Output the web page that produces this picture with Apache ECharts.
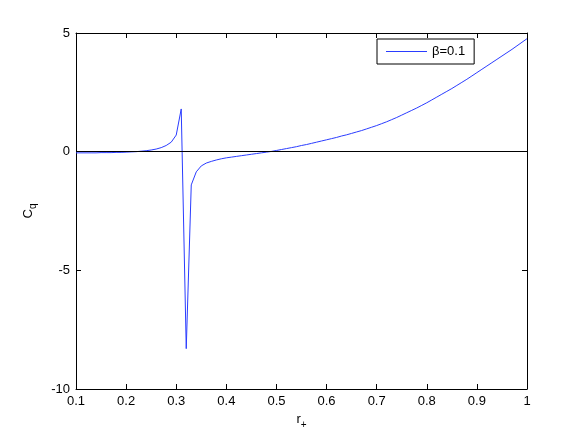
<!DOCTYPE html>
<html>
<head>
<meta charset="utf-8">
<script src="https://cdn.jsdelivr.net/npm/echarts@6/dist/echarts.min.js"></script>
<style>
  html, body { margin: 0; padding: 0; background: #fff; }
  #myChart { width: 582px; height: 438px; }
</style>
</head>
<body>
<div id="myChart"></div>
<script>
// r+ sample points (step 0.01) and heat capacity
const rPlus = [
  0.10, 0.11, 0.12, 0.13, 0.14, 0.15, 0.16, 0.17, 0.18, 0.19,
  0.20, 0.21, 0.22, 0.23, 0.24, 0.25, 0.26, 0.27, 0.28, 0.29,
  0.30, 0.31, 0.32, 0.33, 0.34, 0.35, 0.36, 0.37, 0.38, 0.39,
  0.40, 0.41, 0.42, 0.43, 0.44, 0.45, 0.46, 0.47, 0.48, 0.49,
  0.50, 0.51, 0.52, 0.53, 0.54, 0.55, 0.56, 0.57, 0.58, 0.59,
  0.60, 0.61, 0.62, 0.63, 0.64, 0.65, 0.66, 0.67, 0.68, 0.69,
  0.70, 0.71, 0.72, 0.73, 0.74, 0.75, 0.76, 0.77, 0.78, 0.79,
  0.80, 0.81, 0.82, 0.83, 0.84, 0.85, 0.86, 0.87, 0.88, 0.89,
  0.90, 0.91, 0.92, 0.93, 0.94, 0.95, 0.96, 0.97, 0.98, 0.99,
  1.00
]
const cqBeta01 = [
  -0.05, -0.05, -0.05, -0.05, -0.05, -0.04, -0.04, -0.04, -0.03, -0.03,
  -0.02, -0.01, 0.00, 0.02, 0.04, 0.07, 0.11, 0.17, 0.26, 0.40,
  0.70, 1.80, -8.30, -1.40, -0.85, -0.60, -0.48, -0.41, -0.35, -0.30,
  -0.26, -0.23, -0.20, -0.17, -0.14, -0.11, -0.08, -0.05, -0.02, 0.01,
  0.05, 0.09, 0.13, 0.17, 0.21, 0.26, 0.30, 0.35, 0.40, 0.45,
  0.50, 0.55, 0.60, 0.66, 0.71, 0.77, 0.83, 0.89, 0.96, 1.03,
  1.10, 1.18, 1.26, 1.35, 1.44, 1.54, 1.64, 1.74, 1.84, 1.95,
  2.06, 2.18, 2.30, 2.42, 2.54, 2.66, 2.79, 2.92, 3.05, 3.19,
  3.33, 3.47, 3.61, 3.75, 3.89, 4.03, 4.17, 4.31, 4.46, 4.61,
  4.76
]
const seriesName = 'β=0.1'

const font = 'Liberation Sans, Helvetica, Arial, sans-serif'
const pairs = rPlus.map((r, i) => [r, cqBeta01[i]])

const boxAxis = (extra) => Object.assign({
  type: 'value',
  axisLine: { show: true, onZero: false, lineStyle: { color: '#000', width: 1 } },
  axisTick: { show: true, inside: true, length: 5, lineStyle: { color: '#000' } },
  splitLine: { show: false }
}, extra)

let myChart = echarts.init(document.getElementById('myChart'), null, { renderer: 'canvas' })
myChart.setOption({
  animation: false,
  backgroundColor: '#fff',
  textStyle: { fontFamily: font },
  grid: { left: 76, right: 55, top: 33, bottom: 49, containLabel: false },
  legend: {
    data: [{ name: seriesName, icon: 'rect', itemStyle: { color: '#2a3cff' } }],
    left: 377,
    top: 39,
    orient: 'vertical',
    backgroundColor: '#fff',
    borderColor: '#000',
    borderWidth: 1,
    borderRadius: 0,
    padding: [6, 9, 6, 9],
    itemWidth: 41,
    itemHeight: 1,
    itemGap: 5,
    textStyle: { fontFamily: font, fontSize: 13, color: '#000' }
  },
  xAxis: [
    boxAxis({
      min: 0.1, max: 1, interval: 0.1,
      position: 'bottom',
      axisLabel: { color: '#000', fontSize: 13, fontFamily: font, margin: 6 },
      name: '{r|r}{s|+}',
      nameLocation: 'middle',
      nameGap: 15,
      nameTextStyle: {
        rich: {
          r: { fontSize: 13, fontFamily: font, color: '#000' },
          s: { fontSize: 10, fontFamily: font, color: '#000', padding: [12, 0, 0, 0] }
        }
      }
    }),
    boxAxis({
      min: 0.1, max: 1, interval: 0.1,
      position: 'top',
      axisLabel: { show: false }
    })
  ],
  yAxis: [
    boxAxis({
      min: -10, max: 5, interval: 5,
      position: 'left',
      axisLabel: { color: '#000', fontSize: 13, fontFamily: font, margin: 6 },
      name: '{c|C}{s|q}',
      nameLocation: 'middle',
      nameGap: 38,
      nameTextStyle: {
        rich: {
          c: { fontSize: 13, fontFamily: font, color: '#000' },
          s: { fontSize: 10, fontFamily: font, color: '#000', padding: [10, 0, 0, 0] }
        }
      }
    }),
    boxAxis({
      min: -10, max: 5, interval: 5,
      position: 'right',
      axisLabel: { show: false }
    })
  ],
  series: [
    {
      name: seriesName,
      type: 'line',
      data: pairs,
      symbol: 'none',
      lineStyle: { color: '#2a3cff', width: 1 },
      itemStyle: { color: '#2a3cff' },
      markLine: {
        silent: true,
        symbol: 'none',
        label: { show: false },
        lineStyle: { color: '#000', width: 1, type: 'solid' },
        data: [{ yAxis: 0 }]
      }
    }
  ]
})
</script>
</body>
</html>
